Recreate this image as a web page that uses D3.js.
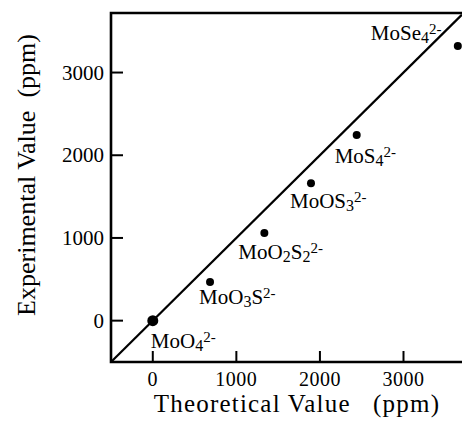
<!DOCTYPE html>
<html>
<head>
<meta charset="utf-8">
<script src="https://cdn.jsdelivr.net/npm/d3@7"></script>
<style>
  body { margin: 0; background: #fff; }
  svg { display: block; }
  text { font-family: "Liberation Serif", "DejaVu Serif", serif; fill: #000; }
</style>
</head>
<body>
<div id="chart"></div>
<script>
// Données (ppm)
const ions = ["MoO4", "MoO3S", "MoO2S2", "MoOS3", "MoS4", "MoSe4"];
const theorique = [0, 685, 1335, 1893, 2440, 3650];
const experimental = [0, 467, 1060, 1660, 2245, 3320];
const ticksX = [0, 1000, 2000, 3000];
const ticksY = [0, 1000, 2000, 3000];

// Morceaux des étiquettes : [texte, type] avec n = normal, b = indice, h = exposant
const morceaux = [
    [["MoO", "n"], ["4", "b"], ["2-", "h"]],
    [["MoO", "n"], ["3", "b"], ["S", "n"], ["2-", "h"]],
    [["MoO", "n"], ["2", "b"], ["S", "n"], ["2", "b"], ["2-", "h"]],
    [["MoOS", "n"], ["3", "b"], ["2-", "h"]],
    [["MoS", "n"], ["4", "b"], ["2-", "h"]],
    [["MoSe", "n"], ["4", "b"], ["2-", "h"]]
];
// Décalage des étiquettes par rapport au point (pixels)
const decalages = [[-2, 27], [-11, 22], [-26, 26], [-21, 25], [-22, 28], [-87, -6]];

const largeur = 462, hauteur = 423;
const gauche = 111, droite = 462, haut = 13, bas = 362;

const svg = d3.select("#chart").append("svg")
    .attr("width", largeur)
    .attr("height", hauteur);

const x = d3.scaleLinear().domain([-500, 3700]).range([gauche, droite]);
const y = d3.scaleLinear().domain([-500, 3720]).range([bas, haut]);

// Cadre : gauche, haut, bas (le côté droit est coupé)
svg.append("path")
    .attr("d", "M" + droite + "," + haut + " L" + gauche + "," + haut + " L" + gauche + "," + bas + " L" + droite + "," + bas)
    .attr("fill", "none")
    .attr("stroke", "#000")
    .attr("stroke-width", 2.6);

// Graduations vers l'intérieur
svg.selectAll(".tx").data(ticksX).enter().append("line")
    .attr("x1", d => x(d)).attr("x2", d => x(d))
    .attr("y1", bas).attr("y2", bas - 11)
    .attr("stroke", "#000").attr("stroke-width", 2);
svg.selectAll(".ty").data(ticksY).enter().append("line")
    .attr("y1", d => y(d)).attr("y2", d => y(d))
    .attr("x1", gauche).attr("x2", gauche + 12)
    .attr("stroke", "#000").attr("stroke-width", 2);

svg.selectAll(".lx").data(ticksX).enter().append("text")
    .attr("x", d => x(d)).attr("y", 386)
    .attr("text-anchor", "middle")
    .attr("font-size", 20)
    .attr("letter-spacing", 0.5)
    .text(d => d);
svg.selectAll(".ly").data(ticksY).enter().append("text")
    .attr("x", 104).attr("y", d => y(d) + 7)
    .attr("text-anchor", "end")
    .attr("font-size", 21)
    .text(d => d);

// Titres des axes
svg.append("text")
    .attr("x", 297).attr("y", 412)
    .attr("text-anchor", "middle")
    .attr("font-size", 25)
    .attr("letter-spacing", 1.2)
    .attr("xml:space", "preserve")
    .text("Theoretical Value   (ppm)");
svg.append("text")
    .attr("transform", "translate(35,175) rotate(-90)")
    .attr("text-anchor", "middle")
    .attr("font-size", 26)
    .attr("xml:space", "preserve")
    .text("Experimental Value  (ppm)");

// Droite y = x
svg.append("line")
    .attr("x1", x(-500)).attr("y1", y(-500))
    .attr("x2", x(3700)).attr("y2", y(3700))
    .attr("stroke", "#000").attr("stroke-width", 2.2);

// Points
svg.selectAll(".pt").data(ions).enter().append("circle")
    .attr("cx", (d, i) => x(theorique[i]))
    .attr("cy", (d, i) => y(experimental[i]))
    .attr("r", (d, i) => i == 0 ? 5.5 : 4)
    .attr("fill", "#000");

// Étiquettes avec indices et exposants
const niveau = { n: 0, b: 3, h: -6 };
const taille = { n: 21, b: 16, h: 15 };
ions.forEach((nom, i) => {
    let t = svg.append("text")
        .attr("x", x(theorique[i]) + decalages[i][0])
        .attr("y", y(experimental[i]) + decalages[i][1]);
    let actuel = 0; // décalage vertical courant (dy est relatif)
    for (let [txt, type] of morceaux[i]) {
        t.append("tspan")
            .attr("font-size", taille[type])
            .attr("dy", niveau[type] - actuel)
            .text(txt);
        actuel = niveau[type];
    }
});
</script>
</body>
</html>
